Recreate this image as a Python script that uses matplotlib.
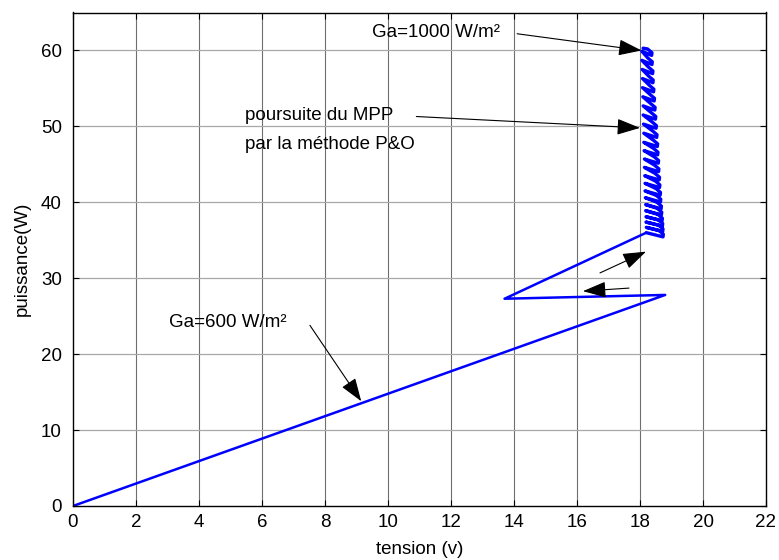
import matplotlib
matplotlib.use("Agg")
import matplotlib.pyplot as plt

plt.rcParams['font.family'] = ['Liberation Sans', 'DejaVu Sans']

# Start-up trajectory (Ga = 600 W/m^2, then irradiance step)
tension_start = [0.0, 18.8, 13.7, 18.20]
puissance_start = [0.0, 27.8, 27.3, 36.0]

# P&O tracking oscillations around the MPP while Ga rises to 1000 W/m^2
tension_po = [
    18.73, 18.74, 18.60, 18.20, 18.72, 18.73, 18.59, 18.19,
    18.71, 18.72, 18.58, 18.19, 18.70, 18.71, 18.57, 18.18,
    18.68, 18.69, 18.55, 18.18, 18.67, 18.68, 18.54, 18.17,
    18.65, 18.66, 18.52, 18.16, 18.64, 18.65, 18.51, 18.16,
    18.62, 18.63, 18.49, 18.15, 18.61, 18.62, 18.48, 18.14,
    18.59, 18.60, 18.46, 18.14, 18.58, 18.59, 18.45, 18.13,
    18.56, 18.57, 18.43, 18.12, 18.55, 18.56, 18.42, 18.12,
    18.53, 18.54, 18.40, 18.11, 18.51, 18.52, 18.38, 18.10,
    18.49, 18.50, 18.36, 18.10, 18.47, 18.48, 18.34, 18.09,
    18.45, 18.46, 18.32, 18.08, 18.43, 18.44, 18.30, 18.08,
    18.41, 18.42, 18.28, 18.07, 18.40, 18.41, 18.27, 18.06,
    18.38, 18.39, 18.25, 18.06, 18.37, 18.38, 18.24, 18.10,
]
puissance_po = [
    35.45, 35.8, 36.3, 36.7, 36.15, 36.5, 37.0, 37.4,
    36.85, 37.2, 37.7, 38.1, 37.55, 37.9, 38.4, 38.9,
    38.35, 38.7, 39.2, 39.7, 39.15, 39.5, 40.0, 40.6,
    40.05, 40.4, 40.9, 41.5, 40.95, 41.3, 41.8, 42.5,
    41.95, 42.3, 42.8, 43.5, 42.95, 43.3, 43.8, 44.6,
    44.05, 44.4, 44.9, 45.7, 45.15, 45.5, 46.0, 46.8,
    46.25, 46.6, 47.1, 47.9, 47.35, 47.7, 48.2, 49.1,
    48.55, 48.9, 49.4, 50.3, 49.75, 50.1, 50.6, 51.5,
    50.95, 51.3, 51.8, 52.7, 52.15, 52.5, 53.0, 53.9,
    53.35, 53.7, 54.2, 55.1, 54.55, 54.9, 55.4, 56.3,
    55.75, 56.1, 56.6, 57.5, 56.95, 57.3, 57.8, 58.7,
    58.15, 58.5, 59.0, 59.9, 59.35, 59.7, 60.2, 60.3,
]

x_ticks = [0, 2, 4, 6, 8, 10, 12, 14, 16, 18, 20, 22]
y_ticks = [0, 10, 20, 30, 40, 50, 60]

fig = plt.figure(figsize=(7.79, 5.60), dpi=100)
ax = fig.add_axes([73 / 779, 54 / 560, 693 / 779, 493.5 / 560])

ax.plot(tension_start, puissance_start, color=(0, 0, 1), lw=1.8,
        solid_joinstyle='round', solid_capstyle='round')
ax.plot([tension_start[-1]] + tension_po, [puissance_start[-1]] + puissance_po,
        color=(0, 0, 1), lw=2.4, solid_joinstyle='round', solid_capstyle='round')

ax.set_xlim(0, 22)
ax.set_ylim(0, 65)
ax.set_xticks(x_ticks)
ax.set_yticks(y_ticks)

for v in x_ticks[1:-1]:
    ax.axvline(v, color='#6e6e6e', lw=0.8, zorder=0)
for p in y_ticks[1:]:
    ax.axhline(p, color='#a8a8a8', lw=0.9, zorder=0)

ax.tick_params(direction='in', length=4, width=0.8, top=True, right=True,
               labelsize=13.5, colors='black')
ax.tick_params(axis='x', pad=6)
ax.tick_params(axis='y', pad=8)
for s in ax.spines.values():
    s.set_linewidth(1.0)

ax.set_xlabel('tension (v)', fontsize=13.5, labelpad=7)
ax.set_ylabel('puissance(W)', fontsize=13.5, labelpad=7)

arrow_kw = dict(arrowstyle='-|>,head_length=0.8,head_width=0.28',
                color='black', lw=0.8, mutation_scale=18, shrinkA=0, shrinkB=0)

ax.text(9.5, 62.4, 'Ga=1000 W/m²', fontsize=13.5, ha='left', va='center')
ax.annotate('', xy=(18.05, 60.0), xytext=(14.1, 62.2), arrowprops=arrow_kw)

ax.text(5.45, 51.4, 'poursuite du MPP', fontsize=13.5, ha='left', va='center')
ax.text(5.45, 47.6, 'par la méthode P&O', fontsize=13.5, ha='left', va='center')
ax.annotate('', xy=(18.0, 49.8), xytext=(10.9, 51.3), arrowprops=arrow_kw)

ax.text(3.05, 24.2, 'Ga=600 W/m²', fontsize=13.5, ha='left', va='center')
ax.annotate('', xy=(9.15, 13.8), xytext=(7.52, 23.8), arrowprops=arrow_kw)

ax.annotate('', xy=(18.19, 33.5), xytext=(16.73, 30.7), arrowprops=arrow_kw)
ax.annotate('', xy=(16.19, 28.3), xytext=(17.65, 28.7), arrowprops=arrow_kw)

fig.savefig('out.png', dpi=100)
